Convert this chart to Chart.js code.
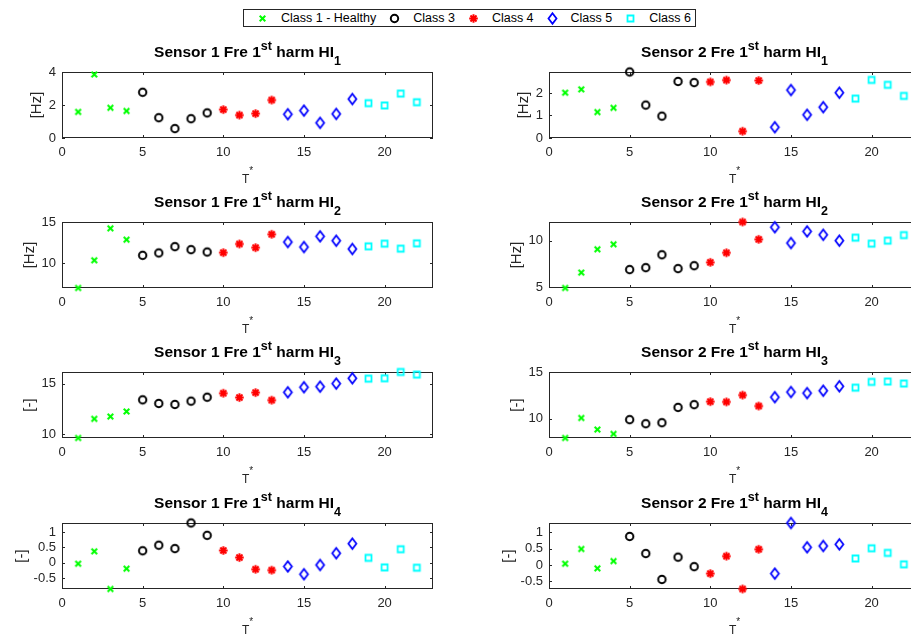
<!DOCTYPE html>
<html>
<head>
<meta charset="utf-8">
<title>Sensor HI per class</title>
<script src="https://cdn.jsdelivr.net/npm/chart.js@4.4.1/dist/chart.umd.min.js"></script>
<style>
  html, body { margin: 0; padding: 0; background: #fff; overflow: hidden; }
  body { width: 911px; height: 637px; position: relative; font-family: 'Liberation Sans', Arial, sans-serif; }
  .panel { position: absolute; }
  .legend {
    position: absolute; left: 243px; top: 9px; height: 18px; box-sizing: border-box;
    border: 1px solid #262626; background: #fff; display: flex; align-items: center;
    font-size: 12.5px; color: #000; padding-right: 4px; white-space: nowrap;
  }
  .legend__item { display: flex; align-items: center; }
  .legend__mark { width: 37px; height: 15px; display: flex; justify-content: center; }
</style>
</head>
<body>
<div class="legend" id="legend"></div>
<canvas class="panel" id="p-s1-hi1"></canvas>
<canvas class="panel" id="p-s2-hi1"></canvas>
<canvas class="panel" id="p-s1-hi2"></canvas>
<canvas class="panel" id="p-s2-hi2"></canvas>
<canvas class="panel" id="p-s1-hi3"></canvas>
<canvas class="panel" id="p-s2-hi3"></canvas>
<canvas class="panel" id="p-s1-hi4"></canvas>
<canvas class="panel" id="p-s2-hi4"></canvas>

<script>
/* ---------- data ---------- */

const samples = [1, 2, 3, 4, 5, 6, 7, 8, 9, 10, 11, 12, 13, 14, 15, 16, 17, 18, 19, 20, 21, 22];
// class index of every sample (0 = healthy)
const sampleClass = [0, 0, 0, 0, 1, 1, 1, 1, 1, 2, 2, 2, 2, 3, 3, 3, 3, 3, 4, 4, 4, 4];
const classNames = ['Class 1 - Healthy', 'Class 3', 'Class 4', 'Class 5', 'Class 6'];

const s1Hi1 = [1.58, 3.85, 1.83, 1.64, 2.77, 1.23, 0.57, 1.17, 1.52, 1.72, 1.39, 1.48, 2.30, 1.44, 1.66, 0.92, 1.46, 2.36, 2.11, 1.97, 2.69, 2.17];
const s2Hi1 = [2.01, 2.16, 1.15, 1.34, 2.93, 1.46, 0.97, 2.51, 2.46, 2.49, 2.57, 0.30, 2.55, 0.48, 2.13, 1.03, 1.37, 2.01, 1.75, 2.58, 2.36, 1.87];
const s1Hi2 = [6.95, 10.33, 14.23, 12.85, 10.93, 11.22, 11.99, 11.63, 11.34, 11.26, 12.32, 11.87, 13.50, 12.56, 11.95, 13.25, 12.72, 11.71, 12.03, 12.36, 11.75, 12.40];
const s2Hi2 = [4.93, 6.58, 9.08, 9.61, 6.90, 7.11, 8.49, 7.01, 7.32, 7.68, 8.70, 12.00, 10.14, 11.44, 9.75, 10.99, 10.63, 10.00, 10.32, 9.68, 10.00, 10.60];
const s1Hi3 = [9.61, 11.51, 11.74, 12.24, 13.39, 13.03, 12.93, 13.26, 13.65, 14.05, 13.62, 14.11, 13.36, 14.14, 14.64, 14.70, 15.00, 15.53, 15.49, 15.53, 16.15, 15.89];
const s2Hi3 = [7.92, 10.07, 8.83, 8.36, 9.89, 9.45, 9.56, 11.20, 11.50, 11.82, 11.79, 12.52, 11.35, 12.30, 12.85, 12.74, 12.99, 13.47, 13.32, 13.94, 13.98, 13.76];
const s1Hi4 = [-0.03, 0.37, -0.85, -0.19, 0.39, 0.57, 0.46, 1.29, 0.89, 0.40, 0.17, -0.21, -0.24, -0.12, -0.37, -0.07, 0.31, 0.62, 0.16, -0.15, 0.44, -0.16];
const s2Hi4 = [0.04, 0.49, -0.10, 0.12, 0.87, 0.35, -0.44, 0.24, -0.05, -0.26, 0.27, -0.73, 0.48, -0.26, 1.28, 0.54, 0.58, 0.63, 0.20, 0.51, 0.37, 0.02];

const xTicks = [0, 5, 10, 15, 20];
const xRange = [0, 23];

const hi1S1Ticks = [0, 2, 4];
const hi1S2Ticks = [0, 1, 2];
const hi2S1Ticks = [10, 15];
const hi2S2Ticks = [5, 10];
const hi3Ticks = [10, 15];
const hi4Ticks = [-0.5, 0, 0.5, 1];

const s1Hi1Range = [0, 4];
const s2Hi1Range = [0, 2.93];
const s1Hi2Range = [6.95, 15];
const s2Hi2Range = [4.93, 12.0];
const s1Hi3Range = [9.61, 16.15];
const s2Hi3Range = [7.92, 15];
const s1Hi4Range = [-0.85, 1.29];
const s2Hi4Range = [-0.73, 1.28];

/* ---------- look ---------- */

const FONT = "'Liberation Sans', Arial, sans-serif";
const AXIS_COLOR = '#262626';
const classStyle = [
  { kind: 'x', color: '#00ff00' },
  { kind: 'o', color: '#000000' },
  { kind: '*', color: '#ff0000' },
  { kind: 'd', color: '#0000ff' },
  { kind: 's', color: '#00ffff' }
];

// MATLAB-like marker glyphs, used as Chart.js point images and in the legend
function makeMarker(kind, color) {
  const c = document.createElement('canvas');
  c.width = 15; c.height = 15;
  const g = c.getContext('2d');
  g.translate(7.5, 7.5);
  g.strokeStyle = color;
  g.lineWidth = 1.8;
  g.beginPath();
  switch (kind) {
    case 'x':
      g.lineWidth = 2;
      g.moveTo(-2.8, -2.8); g.lineTo(2.8, 2.8);
      g.moveTo(-2.8, 2.8); g.lineTo(2.8, -2.8);
      break;
    case 'o':
      g.lineWidth = 2;
      g.arc(0, 0, 3.7, 0, Math.PI * 2);
      break;
    case '*':
      g.lineWidth = 2;
      for (let i = 0; i < 4; i++) {
        const a = i * Math.PI / 4;
        g.moveTo(-4.3 * Math.cos(a), -4.3 * Math.sin(a));
        g.lineTo(4.3 * Math.cos(a), 4.3 * Math.sin(a));
      }
      break;
    case 'd':
      g.moveTo(0, -5.2); g.lineTo(4, 0); g.lineTo(0, 5.2); g.lineTo(-4, 0); g.closePath();
      break;
    case 's':
      g.rect(-3, -3, 6, 6);
      break;
  }
  g.stroke();
  return c;
}

// box, inward ticks, rich-text title and axis labels
const matlabAxes = {
  id: 'matlabAxes',
  beforeDatasetsDraw(chart) {
    const { ctx, chartArea: a, scales: { x, y } } = chart;
    ctx.save();
    ctx.strokeStyle = AXIS_COLOR;
    ctx.lineWidth = 1;
    ctx.strokeRect(a.left + 0.5, a.top + 0.5, a.right - a.left - 1, a.bottom - a.top - 1);
    ctx.beginPath();
    x.ticks.forEach(t => {
      const px = Math.round(x.getPixelForValue(t.value)) + 0.5;
      ctx.moveTo(px, a.bottom); ctx.lineTo(px, a.bottom - 3);
      ctx.moveTo(px, a.top); ctx.lineTo(px, a.top + 3);
    });
    y.ticks.forEach(t => {
      const py = Math.round(y.getPixelForValue(t.value)) + 0.5;
      ctx.moveTo(a.left, py); ctx.lineTo(a.left + 3, py);
      ctx.moveTo(a.right, py); ctx.lineTo(a.right - 3, py);
    });
    ctx.stroke();
    ctx.restore();
  },
  afterDraw(chart, args, opts) {
    const { ctx, chartArea: a, scales: { y } } = chart;
    const cx = (a.left + a.right) / 2;
    ctx.save();

    // title: "Sensor n Fre 1^st harm HI_k"
    const big = `bold 15.5px ${FONT}`;
    const small = `bold 12.5px ${FONT}`;
    const parts = [
      [`Sensor ${opts.sensor} Fre 1`, big, 0],
      ['st', small, -6.6],
      [' harm HI', big, 0],
      [String(opts.hi), small, 7.7]
    ];
    let total = 0;
    parts.forEach(p => { ctx.font = p[1]; p.push(ctx.measureText(p[0]).width); total += p[3]; });
    let tx = cx - total / 2;
    const base = a.top - 15;
    ctx.fillStyle = '#000';
    ctx.textAlign = 'left';
    ctx.textBaseline = 'alphabetic';
    parts.forEach(p => { ctx.font = p[1]; ctx.fillText(p[0], tx, base + p[2]); tx += p[3]; });

    // x label: T*
    ctx.fillStyle = AXIS_COLOR;
    ctx.font = `12px ${FONT}`;
    const tw = ctx.measureText('T').width;
    ctx.font = `10px ${FONT}`;
    const sw = ctx.measureText('*').width;
    const lx = cx - (tw + sw) / 2;
    const lb = a.bottom + 45;
    ctx.font = `12px ${FONT}`;
    ctx.fillText('T', lx, lb);
    ctx.font = `10px ${FONT}`;
    ctx.fillText('*', lx + tw, lb - 9);

    // y label, left of the widest tick label
    ctx.font = `13px ${FONT}`;
    const maxW = Math.max(...y.ticks.map(t => ctx.measureText(t.label).width));
    const ax = a.left - 6 - maxW - 4;
    ctx.translate(ax, (a.top + a.bottom) / 2);
    ctx.rotate(-Math.PI / 2);
    ctx.font = `15px ${FONT}`;
    ctx.textAlign = 'center';
    ctx.textBaseline = 'bottom';
    ctx.fillText(opts.unit, 0, 0);
    ctx.restore();
  }
};

/* ---------- panels ---------- */

const markers = classStyle.map(s => makeMarker(s.kind, s.color));

const panels = [
  { id: 'p-s1-hi1', sensor: 1, hi: 1, values: s1Hi1, ticks: hi1S1Ticks, range: s1Hi1Range, unit: '[Hz]', col: 0, row: 0 },
  { id: 'p-s2-hi1', sensor: 2, hi: 1, values: s2Hi1, ticks: hi1S2Ticks, range: s2Hi1Range, unit: '[Hz]', col: 1, row: 0 },
  { id: 'p-s1-hi2', sensor: 1, hi: 2, values: s1Hi2, ticks: hi2S1Ticks, range: s1Hi2Range, unit: '[Hz]', col: 0, row: 1 },
  { id: 'p-s2-hi2', sensor: 2, hi: 2, values: s2Hi2, ticks: hi2S2Ticks, range: s2Hi2Range, unit: '[Hz]', col: 1, row: 1 },
  { id: 'p-s1-hi3', sensor: 1, hi: 3, values: s1Hi3, ticks: hi3Ticks, range: s1Hi3Range, unit: '[-]', col: 0, row: 2 },
  { id: 'p-s2-hi3', sensor: 2, hi: 3, values: s2Hi3, ticks: hi3Ticks, range: s2Hi3Range, unit: '[-]', col: 1, row: 2 },
  { id: 'p-s1-hi4', sensor: 1, hi: 4, values: s1Hi4, ticks: hi4Ticks, range: s1Hi4Range, unit: '[-]', col: 0, row: 3 },
  { id: 'p-s2-hi4', sensor: 2, hi: 4, values: s2Hi4, ticks: hi4Ticks, range: s2Hi4Range, unit: '[-]', col: 1, row: 3 }
];

// canvas placement per column; the right column runs past the window edge
const columns = [
  { left: 0, width: 455, pad: { left: 12, right: 22 } },
  { left: 455, width: 480, pad: { left: 44, right: 15 } }
];
const AXIS_W = 50;
const AXIS_H = 30;
const PANEL_H = 150;

function buildPanel(p) {
  const col = columns[p.col];
  const el = document.getElementById(p.id);
  el.width = col.width;
  el.height = PANEL_H;
  el.style.left = col.left + 'px';
  el.style.top = (40 + p.row * 150.2) + 'px';

  const datasets = classNames.map((name, c) => ({
    label: name,
    data: samples
      .map((s, i) => ({ x: s, y: p.values[i], c: sampleClass[i] }))
      .filter(d => d.c === c),
    pointStyle: markers[c],
    pointRadius: 5,
    clip: false
  }));

  const tickFont = { family: FONT, size: 13 };

  new Chart(el, {
    type: 'scatter',
    data: { datasets },
    options: {
      responsive: false,
      animation: false,
      devicePixelRatio: 1,
      events: [],
      layout: { padding: { top: 32, bottom: 22, left: col.pad.left, right: col.pad.right } },
      plugins: {
        legend: { display: false },
        tooltip: { enabled: false },
        matlabAxes: { sensor: p.sensor, hi: p.hi, unit: p.unit }
      },
      scales: {
        x: {
          type: 'linear',
          min: xRange[0],
          max: xRange[1],
          grid: { display: false, drawTicks: false },
          border: { display: false },
          afterBuildTicks: s => { s.ticks = xTicks.map(v => ({ value: v })); },
          afterFit: s => { s.height = AXIS_H; },
          ticks: { color: AXIS_COLOR, font: tickFont, padding: 7, maxRotation: 0, callback: v => String(v) }
        },
        y: {
          type: 'linear',
          min: p.range[0],
          max: p.range[1],
          grid: { display: false, drawTicks: false },
          border: { display: false },
          afterBuildTicks: s => { s.ticks = p.ticks.map(v => ({ value: v })); },
          afterFit: s => { s.width = AXIS_W; },
          ticks: { color: AXIS_COLOR, font: tickFont, padding: 6, callback: v => String(v) }
        }
      }
    },
    plugins: [matlabAxes]
  });
}

function buildLegend() {
  const box = document.getElementById('legend');
  classNames.forEach((name, c) => {
    const item = document.createElement('div');
    item.className = 'legend__item';
    const mark = document.createElement('span');
    mark.className = 'legend__mark';
    mark.appendChild(makeMarker(classStyle[c].kind, classStyle[c].color));
    const text = document.createElement('span');
    text.textContent = name;
    item.appendChild(mark);
    item.appendChild(text);
    box.appendChild(item);
  });
}

buildLegend();
panels.forEach(buildPanel);
</script>
</body>
</html>
